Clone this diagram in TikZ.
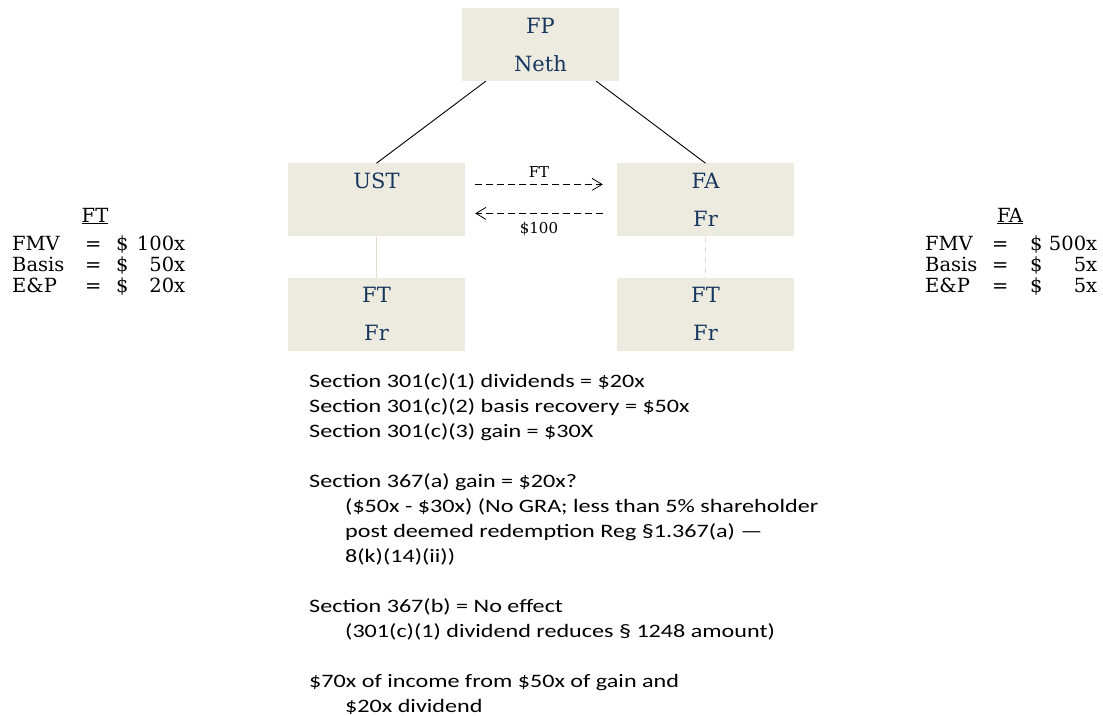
\documentclass[tikz,border=0pt]{standalone}
\usepackage{fontspec}
\setmainfont{DejaVu Serif}
\newfontfamily\notefont{Carlito}[FakeStretch=1.27]
\usetikzlibrary{positioning,arrows.meta}

\definecolor{boxfill}{RGB}{237,234,224}
\definecolor{boxtext}{RGB}{23,55,94}
\definecolor{tieline}{RGB}{226,221,205}

% one line of the value tables: label = $ amount
\newcommand{\ftrow}[2]{\makebox[73pt][l]{#1}\makebox[16pt]{=}\hspace{15pt}\makebox[15pt][l]{\$}\makebox[54pt][r]{#2}}
\newcommand{\farow}[2]{\makebox[67pt][l]{#1}\makebox[16pt]{=}\hspace{22pt}\makebox[15pt][l]{\$}\makebox[52pt][r]{#2}}

\begin{document}
\begin{tikzpicture}[x=1pt, y=-1pt,
    entity/.style={fill=boxfill, text=boxtext, minimum width=177pt, minimum height=73pt,
        inner sep=0pt, align=center, font=\fontsize{21}{38}\selectfont},
    owns/.style={draw=black, line width=0.9pt},
    flow/.style={line width=0.8pt, dash pattern=on 7pt off 4pt, -{Straight Barb[length=10pt,width=12pt]}},
    valtab/.style={inner sep=0pt, align=left, font=\fontsize{19.5}{21}\selectfont}]
    \useasboundingbox (0,0) rectangle (1103,715);

    \node[entity, minimum width=157pt] (FP) at (540.5,44.5) {FP\\Neth};
    \node[entity, below=82pt of FP, xshift=-164pt] (UST) {UST\\\phantom{Fr}};
    \node[entity, below=82pt of FP, xshift=165pt] (FA) {FA\\Fr};
    \node[entity, below=41pt of UST] (FTus) {FT\\Fr};
    \node[entity, below=41pt of FA] (FTfa) {FT\\Fr};

    \draw[owns] ([xshift=24pt]FP.south west) -- (UST.north);
    \draw[owns] ([xshift=-23pt]FP.south east) -- (FA.north);
    \draw[tieline, line width=1pt] (UST.south) -- (FTus.north);
    \draw[tieline, line width=1pt, dash pattern=on 6pt off 4pt] (FA.south) -- (FTfa.north);

    \draw[flow] ([shift={(10pt,15.5pt)}]UST.east) -- ([shift={(-14pt,15.5pt)}]FA.west)
        node[midway, above=3pt, font=\fontsize{15}{18}\selectfont] (share) {FT};
    \draw[flow] ([shift={(-14pt,-13.5pt)}]FA.west) -- ([shift={(10pt,-13.5pt)}]UST.east)
        node[midway, below=5pt, font=\fontsize{15}{18}\selectfont] (cash) {\$100};

    % value tables (base = last line)
    \node[valtab, anchor=base] (ftHead) at (95,222) {\underline{FT}};
    \node[valtab, anchor=base west] (ftTable) at (12,292)
        {\ftrow{FMV}{100x}\\\ftrow{Basis}{50x}\\\ftrow{E\&P}{20x}};
    \node[valtab, anchor=base] (faHead) at (1010,222) {\underline{FA}};
    \node[valtab, anchor=base west] (faTable) at (925,292)
        {\farow{FMV}{500x}\\\farow{Basis}{5x}\\\farow{E\&P}{5x}};

    % notes
    \node[anchor=north west, inner sep=0pt, align=left, font=\notefont\fontsize{19}{25}\selectfont] (notes) at (309,373)
        {Section 301(c)(1) dividends = \$20x\\
         Section 301(c)(2) basis recovery = \$50x\\
         Section 301(c)(3) gain = \$30X\\[25pt]
         Section 367(a) gain = \$20x?\\
         \hspace*{36pt}(\$50x - \$30x) (No GRA; less than 5\% shareholder\\
         \hspace*{36pt}post deemed redemption Reg §1.367(a) —\\
         \hspace*{36pt}8(k)(14)(ii))\\[25pt]
         Section 367(b) = No effect\\
         \hspace*{36pt}(301(c)(1) dividend reduces § 1248 amount)\\[25pt]
         \$70x of income from \$50x of gain and\\
         \hspace*{36pt}\$20x dividend};
\end{tikzpicture}
\end{document}
